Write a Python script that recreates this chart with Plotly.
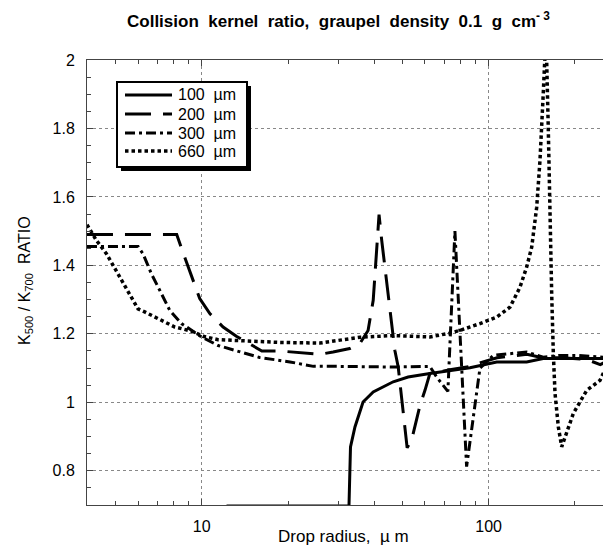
import plotly.graph_objects as go

# ---- data ----
r100 = [12.2, 32.6, 33.0, 34.2, 36.5, 39.6, 46.5, 52.4, 62.4, 73.3, 86.1, 106.7, 135.7, 155.0, 200.0, 258.0]
k100 = [0.697, 0.697, 0.87, 0.928, 1.001, 1.030, 1.060, 1.074, 1.084, 1.092, 1.101, 1.118, 1.118, 1.128, 1.128, 1.128]

r200 = [3.98, 8.18, 8.85, 9.84, 10.67, 11.87, 13.2, 16.2, 18.7, 25.8, 28.7, 32.8, 35.6, 38.0, 39.6, 40.7, 41.5,
        42.4, 44.1, 45.9, 47.1, 48.4, 49.7, 52.0, 53.9, 57.6, 60.0, 62.4, 73.3, 86.1, 93.0, 107.0, 120.0, 136.0,
        155.0, 180.0, 220.0, 245.0, 258.0, 267.0]
k200 = [1.49, 1.49, 1.409, 1.303, 1.259, 1.22, 1.193, 1.150, 1.15, 1.14, 1.147, 1.157, 1.172, 1.21, 1.298, 1.463, 1.548,
        1.473, 1.356, 1.23, 1.152, 1.103, 1.016, 0.867, 0.89, 0.99, 1.035, 1.084, 1.095, 1.105, 1.115, 1.13, 1.135, 1.14,
        1.13, 1.13, 1.125, 1.11, 1.12, 1.13]

r300 = [3.98, 6.0, 6.24, 6.68, 7.24, 7.74, 8.50, 9.21, 9.98, 11.4, 13.76, 15.9, 20.3, 24.5, 30.3, 46.5, 62.4, 66.0,
        72.1, 76.3, 83.8, 93.3, 103.8, 118.7, 135.7, 155.0, 177.3, 202.8, 258.0, 267.0]
k300 = [1.455, 1.455, 1.434, 1.375, 1.317, 1.268, 1.23, 1.21, 1.191, 1.166, 1.147, 1.131, 1.118, 1.105, 1.105, 1.103,
        1.105, 1.073, 1.032, 1.50, 0.812, 1.10, 1.137, 1.142, 1.147, 1.132, 1.137, 1.137, 1.132, 1.13]

r660 = [3.98, 4.295, 4.653, 5.107, 5.534, 5.996, 6.328, 7.236, 8.053, 9.207, 10.1, 11.4, 13.76, 18.7, 25.8, 35.6,
        46.4, 62.4, 73.3, 79.4, 93.3, 106.7, 118.7, 128.6, 135.7, 141.3, 147.1, 151.0, 155.0, 158.5, 161.4, 163.7,
        165.9, 168.1, 170.4, 175.0, 179.8, 197.3, 219.8, 244.5, 258.0, 265.0]
k660 = [1.519, 1.473, 1.434, 1.375, 1.327, 1.273, 1.264, 1.239, 1.22, 1.208, 1.193, 1.183, 1.179, 1.175, 1.173, 1.19,
        1.195, 1.191, 1.202, 1.21, 1.23, 1.249, 1.278, 1.336, 1.395, 1.453, 1.57, 1.706, 1.90, 2.08, 1.803, 1.511,
        1.317, 1.142, 1.026, 0.928, 0.870, 0.967, 1.035, 1.064, 1.103, 1.128]

names = ["100\u00a0\u00a0µm", "200\u00a0\u00a0µm", "300\u00a0\u00a0µm", "660\u00a0\u00a0µm"]
dashes = ["solid", "26px,12px", "10px,4px,3px,4px", "3.5px,3px"]
widths = [3, 3, 3, 3.5]

x_major = [10, 100]
x_minor = [4, 5, 6, 7, 8, 9, 20, 30, 40, 50, 60, 70, 80, 90, 200]

FONT = "Liberation Sans, Arial, Helvetica, sans-serif"

# plot area in page pixels (page body has an 8px margin)
PL, PR, PT, PB = 87, 611, 60, 505
PW, PH = PR - PL, PB - PT


def px(xp):
    return (xp - PL) / PW


def py(yp):
    return (PB - yp) / PH


fig = go.Figure()
for rx, ky, nm, ds, w in zip([r100, r200, r300, r660], [k100, k200, k300, k660], names, dashes, widths):
    fig.add_trace(go.Scatter(x=rx, y=ky, mode="lines", name=nm, showlegend=False,
                             line=dict(color="black", width=w, dash=ds)))

fig.update_layout(
    width=611 - 8, height=546 - 8,
    margin=dict(l=PL - 8, r=0, t=PT - 8, b=(546 - 8) - (PB - 8)),
    paper_bgcolor="white", plot_bgcolor="white",
    font=dict(family=FONT, size=16, color="black"),
    showlegend=False,
)

fig.update_xaxes(type="log", range=[0.6, 2.4266],
                 tickvals=x_major, ticktext=[str(v) for v in x_major],
                 ticks="inside", ticklen=6, tickcolor="#444",
                 showline=True, linecolor="#444", linewidth=1, mirror="ticks",
                 showgrid=True, gridcolor="#888", griddash="dot", gridwidth=1,
                 zeroline=False, ticklabelstandoff=7,
                 minor=dict(tickvals=x_minor, ticks="inside", ticklen=4, tickcolor="#444", showgrid=False))
fig.update_yaxes(range=[0.7, 2.0], tick0=0, dtick=0.2,
                 ticks="inside", ticklen=6, tickcolor="#444",
                 showline=True, linecolor="#444", linewidth=1, mirror="ticks",
                 showgrid=True, gridcolor="#888", griddash="dot", gridwidth=1,
                 zeroline=False, ticklabelstandoff=8,
                 minor=dict(dtick=0.05, ticks="inside", ticklen=4, tickcolor="#444", showgrid=False))

# ---- legend box (drawn by hand to match the compact original) ----
LX0, LX1, LY0, LY1 = 117, 247, 82, 167
fig.add_shape(type="rect", xref="paper", yref="paper",
              x0=px(LX0 + 4), x1=px(LX1 + 4), y0=py(LY1 + 4), y1=py(LY0 + 4),
              fillcolor="black", line=dict(width=0), layer="above")
fig.add_shape(type="rect", xref="paper", yref="paper",
              x0=px(LX0), x1=px(LX1), y0=py(LY1), y1=py(LY0),
              fillcolor="white", line=dict(color="black", width=2), layer="above")
rows = [95, 114, 133, 151]
for yy, nm, ds, w in zip(rows, names, dashes, widths):
    fig.add_shape(type="line", xref="paper", yref="paper",
                  x0=px(125), x1=px(172), y0=py(yy), y1=py(yy),
                  line=dict(color="black", width=w, dash=ds), layer="above")
    fig.add_annotation(text=nm, xref="paper", yref="paper", x=px(176), y=py(yy),
                       xanchor="left", yanchor="middle", showarrow=False, font=dict(size=16))

fig.add_annotation(text="<b>Collision\u00a0 kernel\u00a0 ratio,\u00a0 graupel\u00a0 density\u00a0 0.1\u00a0 g\u00a0 cm<sup>- 3</sup></b>",
                   xref="paper", yref="paper", x=px(338), y=py(20),
                   showarrow=False, xanchor="center", yanchor="middle", font=dict(size=17))
fig.add_annotation(text="Drop radius,\u00a0 µ\u00a0m",
                   xref="paper", yref="paper", x=px(343), y=py(536),
                   showarrow=False, xanchor="center", yanchor="middle", font=dict(size=17))
fig.add_annotation(text="K<sub>500</sub> / K<sub>700</sub>\u00a0\u00a0RATIO",
                   xref="paper", yref="paper", x=px(25), y=py(281),
                   showarrow=False, xanchor="center", yanchor="middle", textangle=-90,
                   font=dict(size=16))

fig.write_html("out.html")
